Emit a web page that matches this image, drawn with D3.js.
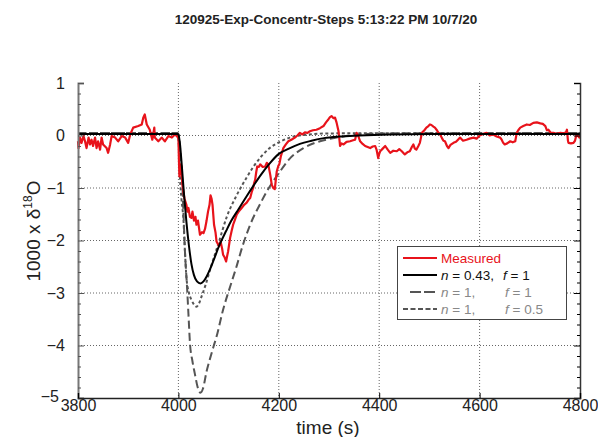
<!DOCTYPE html>
<html>
<head>
<meta charset="utf-8">
<script src="https://cdn.jsdelivr.net/npm/d3@7"></script>
<style>
  html, body { margin: 0; padding: 0; background: #fff; }
  svg { display: block; font-family: "Liberation Sans", Arial, Helvetica, sans-serif; }
</style>
</head>
<body>
<svg id="chart" width="598" height="437"></svg>
<script>
// ---- data ----
const titleText = "120925-Exp-Concentr-Steps 5:13:22 PM 10/7/20";
const xTicks = [3800, 4000, 4200, 4400, 4600, 4800];
const yTicks = [-5, -4, -3, -2, -1, 0, 1];
const xGrid = [4000, 4200, 4400, 4600];
const yGrid = [-4, -3, -2, -1, 0];

// measured signal: [time (s), 1000 x delta18O]
const measured = [
  [3800,-0.11],[3801,-0.24],[3804,-0.04],[3807,-0.14],[3811,-0.01],[3814,-0.11],[3817,-0.24],
  [3821,-0.04],[3824,-0.17],[3827,-0.08],[3830,-0.20],[3834,-0.04],[3837,-0.24],[3840,-0.11],
  [3844,-0.27],[3847,-0.04],[3850,-0.17],[3857,-0.24],[3860,-0.33],[3864,-0.17],[3867,-0.01],
  [3874,-0.04],[3880,-0.11],[3887,-0.01],[3894,-0.04],[3900,-0.14],[3904,0.02],[3910,0.15],
  [3920,0.18],[3927,0.21],[3930,0.34],[3933,0.40],[3937,0.21],[3943,0.11],[3948,-0.08],
  [3952,0.15],[3953,-0.04],[3960,-0.11],[3967,-0.04],[3973,-0.11],[3980,-0.01],[3987,-0.04],
  [3993,0.02],[3997,-0.01],[4000,-0.05],[4001,-0.45],[4002,-0.78],[4004,-0.55],[4006,-0.60],
  [4008,-0.95],[4012,-1.20],[4016,-1.32],[4018,-1.45],[4020,-1.38],[4023,-1.55],[4026,-1.57],
  [4028,-1.45],[4031,-1.62],[4034,-1.55],[4036,-1.70],[4039,-1.62],[4043,-1.89],[4047,-1.84],
  [4050,-1.86],[4053,-1.78],[4056,-1.63],[4059,-1.45],[4062,-1.32],[4064,-1.14],[4066,-1.20],
  [4068,-1.32],[4071,-1.70],[4074,-1.85],[4076,-2.02],[4081,-2.11],[4084,-2.02],[4087,-2.15],
  [4089,-2.27],[4092,-2.32],[4095,-2.40],[4097,-2.30],[4099,-2.21],[4103,-1.95],[4106,-1.82],
  [4109,-1.70],[4112,-1.62],[4116,-1.51],[4120,-1.45],[4126,-1.38],[4131,-1.32],[4136,-1.28],
  [4140,-1.22],[4143,-1.19],[4146,-1.08],[4149,-1.00],[4151,-0.90],[4153,-0.84],[4155,-0.70],
  [4157,-0.59],[4160,-0.60],[4163,-0.55],[4168,-0.60],[4173,-0.59],[4176,-0.52],[4179,-0.55],
  [4183,-0.75],[4186,-0.94],[4189,-1.00],[4192,-1.02],[4194,-0.85],[4196,-0.68],[4199,-0.58],
  [4201,-0.55],[4204,-0.40],[4209,-0.24],[4214,-0.17],[4219,-0.11],[4225,-0.08],[4232,-0.04],
  [4237,0.00],[4242,0.05],[4247,0.02],[4252,0.06],[4257,0.05],[4262,0.08],[4268,0.10],
  [4275,0.11],[4282,0.14],[4289,0.18],[4294,0.25],[4299,0.31],[4302,0.35],[4305,0.37],
  [4309,0.33],[4312,0.34],[4315,0.25],[4319,0.08],[4321,-0.10],[4322,-0.20],[4325,-0.15],
  [4329,-0.17],[4335,-0.12],[4342,-0.11],[4348,-0.09],[4352,-0.08],[4355,0.05],[4358,0.00],
  [4362,-0.11],[4367,-0.16],[4372,-0.20],[4377,-0.22],[4382,-0.24],[4387,-0.21],[4392,-0.20],
  [4395,-0.28],[4398,-0.43],[4400,-0.35],[4402,-0.30],[4407,-0.25],[4412,-0.20],[4417,-0.27],
  [4422,-0.33],[4428,-0.29],[4435,-0.30],[4440,-0.26],[4445,-0.30],[4451,-0.36],[4456,-0.32],
  [4461,-0.30],[4465,-0.22],[4468,-0.17],[4471,-0.25],[4474,-0.27],[4478,-0.20],[4481,-0.14],
  [4483,-0.05],[4485,0.05],[4490,0.10],[4494,0.15],[4498,0.18],[4501,0.21],[4504,0.20],
  [4508,0.17],[4511,0.15],[4515,0.10],[4518,0.05],[4521,0.03],[4525,-0.05],[4528,-0.10],
  [4531,-0.11],[4535,-0.20],[4538,-0.24],[4542,-0.18],[4548,-0.14],[4553,-0.12],[4557,-0.08],
  [4561,-0.04],[4567,-0.10],[4574,-0.08],[4580,-0.06],[4588,-0.04],[4594,-0.06],[4600,0.00],
  [4607,0.03],[4614,0.05],[4620,0.00],[4627,0.02],[4634,-0.02],[4641,-0.04],[4644,-0.08],
  [4647,-0.14],[4650,-0.17],[4655,-0.15],[4661,-0.11],[4666,-0.13],[4671,-0.11],[4674,0.05],
  [4677,0.10],[4681,0.15],[4687,0.18],[4694,0.21],[4700,0.20],[4707,0.24],[4714,0.25],
  [4721,0.23],[4726,0.22],[4731,0.18],[4734,0.10],[4737,0.11],[4742,0.05],[4747,0.05],
  [4754,0.03],[4761,0.05],[4767,0.04],[4772,0.06],[4774,0.11],[4776,-0.10],[4777,-0.14],
  [4782,-0.15],[4787,-0.14],[4790,-0.10],[4793,0.02],[4797,-0.02],[4800,-0.05]
];

// model: n = 0.43, f = 1
const modelA = [
  [3800,0.03],[3998,0.03],[4000,0.02],[4003,-0.15],[4007,-0.6],[4011,-1.1],[4016,-1.65],
  [4021,-2.1],[4026,-2.45],[4031,-2.66],[4037,-2.78],[4044,-2.82],[4050,-2.78],[4056,-2.69],
  [4062,-2.57],[4070,-2.38],[4082,-2.08],[4095,-1.82],[4105,-1.63],[4120,-1.40],[4135,-1.17],
  [4150,-0.95],[4165,-0.74],[4182,-0.53],[4200,-0.35],[4220,-0.25],[4242,-0.16],[4265,-0.10],
  [4290,-0.05],[4320,-0.02],[4360,0.0],[4420,0.02],[4500,0.03],[4800,0.03]
];

// model: n = 1, f = 1
const modelB = [
  [3800,0.05],[3998,0.05],[4001,0.0],[4004,-0.35],[4007,-0.75],[4010,-1.45],[4013,-2.2],
  [4017,-2.85],[4020,-3.4],[4023,-3.95],[4028,-4.3],[4033,-4.55],[4038,-4.78],[4044,-4.9],
  [4049,-4.82],[4056,-4.5],[4063,-4.25],[4070,-4.02],[4076,-3.83],[4089,-3.32],[4103,-2.88],
  [4115,-2.52],[4128,-2.1],[4143,-1.70],[4163,-1.30],[4182,-0.97],[4200,-0.72],[4220,-0.46],
  [4249,-0.24],[4282,-0.11],[4315,-0.04],[4360,0.02],[4420,0.04],[4800,0.05]
];

// model: n = 1, f = 0.5
const modelC = [
  [3800,0.05],[3998,0.05],[4001,-0.2],[4003,-0.78],[4006,-1.2],[4010,-1.6],[4013,-2.2],
  [4016,-2.7],[4021,-3.0],[4026,-3.13],[4031,-3.22],[4036,-3.26],[4041,-3.2],[4046,-3.07],
  [4054,-2.85],[4063,-2.56],[4080,-2.05],[4096,-1.56],[4116,-1.14],[4136,-0.8],[4149,-0.6],
  [4165,-0.4],[4182,-0.24],[4202,-0.12],[4222,-0.04],[4250,0.01],[4300,0.04],[4800,0.05]
];

// ---- layout ----
const svg = d3.select("#chart");
const x = d3.scaleLinear().domain([3800, 4800]).range([78, 580]);
const y = d3.scaleLinear().domain([-5, 1]).range([398, 83]);
const yMinor = d3.range(-5, 1.001, 0.2).map(v => +v.toFixed(1)).filter(v => !yTicks.includes(v));

// title
svg.append("text")
  .attr("x", 326).attr("y", 24)
  .attr("text-anchor", "middle")
  .attr("font-weight", "bold")
  .attr("font-size", "13.5px")
  .attr("fill", "#222")
  .text(titleText);

// grid
const grid = svg.append("g").attr("stroke", "#666").attr("stroke-width", 1)
  .attr("stroke-dasharray", "1,2");
grid.selectAll(".gx").data(xGrid).join("line")
  .attr("x1", d => x(d)).attr("x2", d => x(d))
  .attr("y1", y(1)).attr("y2", y(-5));
grid.selectAll(".gy").data(yGrid).join("line")
  .attr("x1", x(3800)).attr("x2", x(4800))
  .attr("y1", d => y(d)).attr("y2", d => y(d));

// curves
const line = d3.line().x(d => x(d[0])).y(d => y(d[1]));
const smooth = d3.line().x(d => x(d[0])).y(d => y(d[1])).curve(d3.curveMonotoneX);

svg.append("path").datum(modelB).attr("d", smooth)
  .attr("fill", "none").attr("stroke", "#555").attr("stroke-width", 2)
  .attr("stroke-dasharray", "8,4");
svg.append("path").datum(modelC).attr("d", smooth)
  .attr("fill", "none").attr("stroke", "#555").attr("stroke-width", 2)
  .attr("stroke-dasharray", "3,2.5");
svg.append("path").datum(measured).attr("d", line)
  .attr("fill", "none").attr("stroke", "#e8131b").attr("stroke-width", 2.2)
  .attr("stroke-linejoin", "round");
svg.append("path").datum(modelA).attr("d", smooth)
  .attr("fill", "none").attr("stroke", "#000").attr("stroke-width", 2);

// axes
const fontSize = "16px";
const left = svg.append("g").attr("transform", `translate(${x(3800)},0)`)
  .call(d3.axisLeft(y).tickValues(yTicks).tickSize(-6).tickPadding(13).tickFormat(d3.format("d")));
left.select(".domain").attr("stroke", "#777").attr("stroke-width", 2);
left.selectAll(".tick line").attr("stroke", "#555");
left.selectAll("text").attr("font-size", fontSize).attr("fill", "#222")
  .attr("font-family", "Liberation Sans, Arial, sans-serif");
// the lowest label sits in the corner next to the first time label; nudge it aside
left.selectAll(".tick").filter(d => d === -5).select("text").attr("dx", -6).attr("dy", "0.2em");
svg.append("g").attr("transform", `translate(${x(3800)},0)`)
  .call(d3.axisLeft(y).tickValues(yMinor).tickSize(-3).tickFormat(""))
  .call(g => g.select(".domain").remove())
  .selectAll("line").attr("stroke", "#555");

const right = svg.append("g").attr("transform", `translate(${x(4800)},0)`)
  .call(d3.axisRight(y).tickValues(yTicks).tickSize(-6).tickFormat(""));
right.select(".domain").attr("stroke", "#333").attr("stroke-width", 1.5);
svg.append("g").attr("transform", `translate(${x(4800)},0)`)
  .call(d3.axisRight(y).tickValues(yMinor).tickSize(-3).tickFormat(""))
  .call(g => g.select(".domain").remove());

const bottom = svg.append("g").attr("transform", `translate(0,${y(-5)})`)
  .call(d3.axisBottom(x).tickValues(xTicks).tickSize(-5).tickPadding(2).tickFormat(d3.format("d")));
bottom.select(".domain").attr("stroke", "#222").attr("stroke-width", 1.5);
bottom.selectAll("text").attr("font-size", fontSize).attr("fill", "#222")
  .attr("font-family", "Liberation Sans, Arial, sans-serif");

// axis titles
svg.append("text")
  .attr("x", 328).attr("y", 434)
  .attr("text-anchor", "middle")
  .attr("font-size", "19px").attr("fill", "#222")
  .text("time (s)");

const yt = svg.append("text")
  .attr("transform", "translate(40,231) rotate(-90)")
  .attr("text-anchor", "middle")
  .attr("font-size", "19px").attr("fill", "#222");
yt.append("tspan").text("1000 x \u03B4");
yt.append("tspan").attr("font-size", "12px").attr("dy", "-8").text("18");
yt.append("tspan").attr("dy", "8").text("O");

// legend
const lg = svg.append("g");
lg.append("rect").attr("x", 397.5).attr("y", 246.5).attr("width", 169).attr("height", 73)
  .attr("fill", "#fff").attr("stroke", "#444").attr("stroke-width", 1);

const legendRows = [
  { stroke: "#e8131b", dash: null, x1: 403, color: "#e8131b", parts: [["Measured", false]] },
  { stroke: "#000", dash: null, x1: 403, color: "#111", parts: [["n", true], [" = 0.43,", false]], tail: [["f", true], [" = 1", false]] },
  { stroke: "#555", dash: "11,3", x1: 410, color: "#888", parts: [["n", true], [" = 1,", false]], tail: [["f", true], [" = 1", false]] },
  { stroke: "#555", dash: "5,2.5", x1: 403, color: "#888", parts: [["n", true], [" = 1,", false]], tail: [["f", true], [" = 0.5", false]] }
];
legendRows.forEach((r, i) => {
  const cy = 258 + i * 17;
  lg.append("line").attr("x1", r.x1).attr("x2", 437).attr("y1", cy).attr("y2", cy)
    .attr("stroke", r.stroke).attr("stroke-width", 2)
    .attr("stroke-dasharray", r.dash);
  const t = lg.append("text").attr("x", 441).attr("y", cy + 5)
    .attr("font-size", "13.5px").attr("fill", r.color);
  r.parts.forEach(p => t.append("tspan").attr("font-style", p[1] ? "italic" : null).text(p[0]));
  if (r.tail) {
    const t2 = lg.append("text").attr("x", i === 1 ? 503 : 505).attr("y", cy + 5)
      .attr("font-size", "13.5px").attr("fill", r.color);
    r.tail.forEach(p => t2.append("tspan").attr("font-style", p[1] ? "italic" : null).text(p[0]));
  }
});
</script>
</body>
</html>
